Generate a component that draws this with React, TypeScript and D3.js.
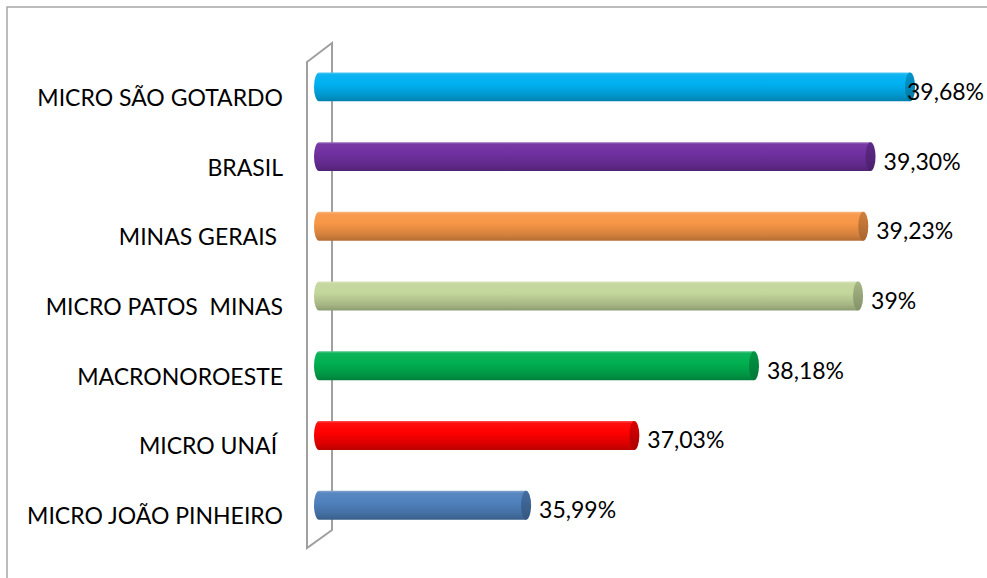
import React, { useRef, useEffect } from 'react';
import * as d3 from 'd3';

const categories = [
  'MICRO SÃO GOTARDO',
  'BRASIL',
  'MINAS GERAIS ',
  'MICRO PATOS  MINAS',
  'MACRONOROESTE',
  'MICRO UNAÍ ',
  'MICRO JOÃO PINHEIRO',
];
const values = [39.68, 39.3, 39.23, 39.18, 38.18, 37.03, 35.99];
const valueLabels = ['39,68%', '39,30%', '39,23%', '39%', '38,18%', '37,03%', '35,99%'];
const barColors = ['#00b0f0', '#7030a0', '#f79646', '#c3d69b', '#00b050', '#ff0000', '#4f81bd'];

const WIDTH = 987;
const HEIGHT = 578;
const FONT = 'Lato, "Open Sans", sans-serif';

const App = () => {
  const svgRef = useRef(null);

  useEffect(() => {
    const svg = d3.select(svgRef.current);
    svg.selectAll('*').remove();

    const xScale = d3.scaleLinear().domain([34, 40]).range([319, 943.4]);
    const yScale = d3
      .scaleBand()
      .domain(categories)
      .range([52.2, 539.9])
      .paddingInner(0.585)
      .paddingOuter(0.29);
    const bh = yScale.bandwidth();
    const rx = 5;

    const defs = svg.append('defs');
    barColors.forEach((c, i) => {
      const base = d3.color(c);
      const g = defs
        .append('linearGradient')
        .attr('id', `cyl-${i}`)
        .attr('x1', 0)
        .attr('y1', 0)
        .attr('x2', 0)
        .attr('y2', 1);
      g.append('stop').attr('offset', '0%').attr('stop-color', d3.interpolateRgb(c, '#fff')(0.3));
      g.append('stop').attr('offset', '8%').attr('stop-color', d3.interpolateRgb(c, '#fff')(0.05));
      g.append('stop').attr('offset', '40%').attr('stop-color', c);
      g.append('stop').attr('offset', '80%').attr('stop-color', base.darker(0.45).toString());
      g.append('stop').attr('offset', '100%').attr('stop-color', base.darker(0.9).toString());

      const cap = defs
        .append('linearGradient')
        .attr('id', `cap-${i}`)
        .attr('x1', 0)
        .attr('y1', 0)
        .attr('x2', 0)
        .attr('y2', 1);
      cap.append('stop').attr('offset', '0%').attr('stop-color', base.darker(0.45).toString());
      cap.append('stop').attr('offset', '100%').attr('stop-color', base.darker(1.1).toString());
    });

    // chart border
    svg
      .append('rect')
      .attr('x', 7)
      .attr('y', 7)
      .attr('width', WIDTH + 20)
      .attr('height', HEIGHT + 20)
      .attr('fill', 'none')
      .attr('stroke', '#a6a6a6')
      .attr('stroke-width', 1.5);

    // 3d wall
    const [y0, y1] = yScale.range();
    svg
      .append('path')
      .attr(
        'd',
        `M307,${y0 + 9.8} L332,${y0 - 9.2} L332,${y1 - 9.9} L307,${y1 + 8.1} Z`
      )
      .attr('fill', 'none')
      .attr('stroke', '#a0a0a0')
      .attr('stroke-width', 2);

    const rows = categories.map((c, i) => ({
      cat: c,
      value: values[i],
      label: valueLabels[i],
      i,
    }));

    const bar = svg
      .selectAll('.bar')
      .data(rows)
      .enter()
      .append('g')
      .classed('bar', true);

    bar
      .append('path')
      .attr('d', (d) => {
        const top = yScale(d.cat);
        const xl = xScale.range()[0];
        const xr = xScale(d.value);
        return `M${xl},${top} L${xr},${top} L${xr},${top + bh} L${xl},${top + bh} A${rx},${bh / 2} 0 0 1 ${xl},${top} Z`;
      })
      .attr('fill', (d) => `url(#cyl-${d.i})`);

    bar
      .append('ellipse')
      .attr('cx', (d) => xScale(d.value))
      .attr('cy', (d) => yScale(d.cat) + bh / 2)
      .attr('rx', rx)
      .attr('ry', bh / 2)
      .attr('fill', (d) => `url(#cap-${d.i})`);

    // category labels
    svg
      .selectAll('.cat-label')
      .data(rows)
      .enter()
      .append('text')
      .classed('cat-label', true)
      .attr('x', 283)
      .attr('y', (d) => yScale(d.cat) + bh / 2 + 19)
      .attr('text-anchor', 'end')
      .attr('font-family', FONT)
      .attr('font-size', 23)
      .attr('fill', '#000')
      .style('white-space', 'pre')
      .text((d) => d.cat);

    // value labels
    svg
      .selectAll('.val-label')
      .data(rows)
      .enter()
      .append('text')
      .classed('val-label', true)
      .attr('x', (d) => Math.min(xScale(d.value) + rx + 8, WIDTH - 80))
      .attr('y', (d) => yScale(d.cat) + bh / 2 + 13)
      .attr('font-family', FONT)
      .attr('font-size', 23)
      .attr('fill', '#000')
      .text((d) => d.label);
  }, []);

  return (
    <svg
      ref={svgRef}
      width={WIDTH}
      height={HEIGHT}
      style={{ position: 'absolute', left: 0, top: 0, background: '#fff' }}
    ></svg>
  );
};

export default App;
